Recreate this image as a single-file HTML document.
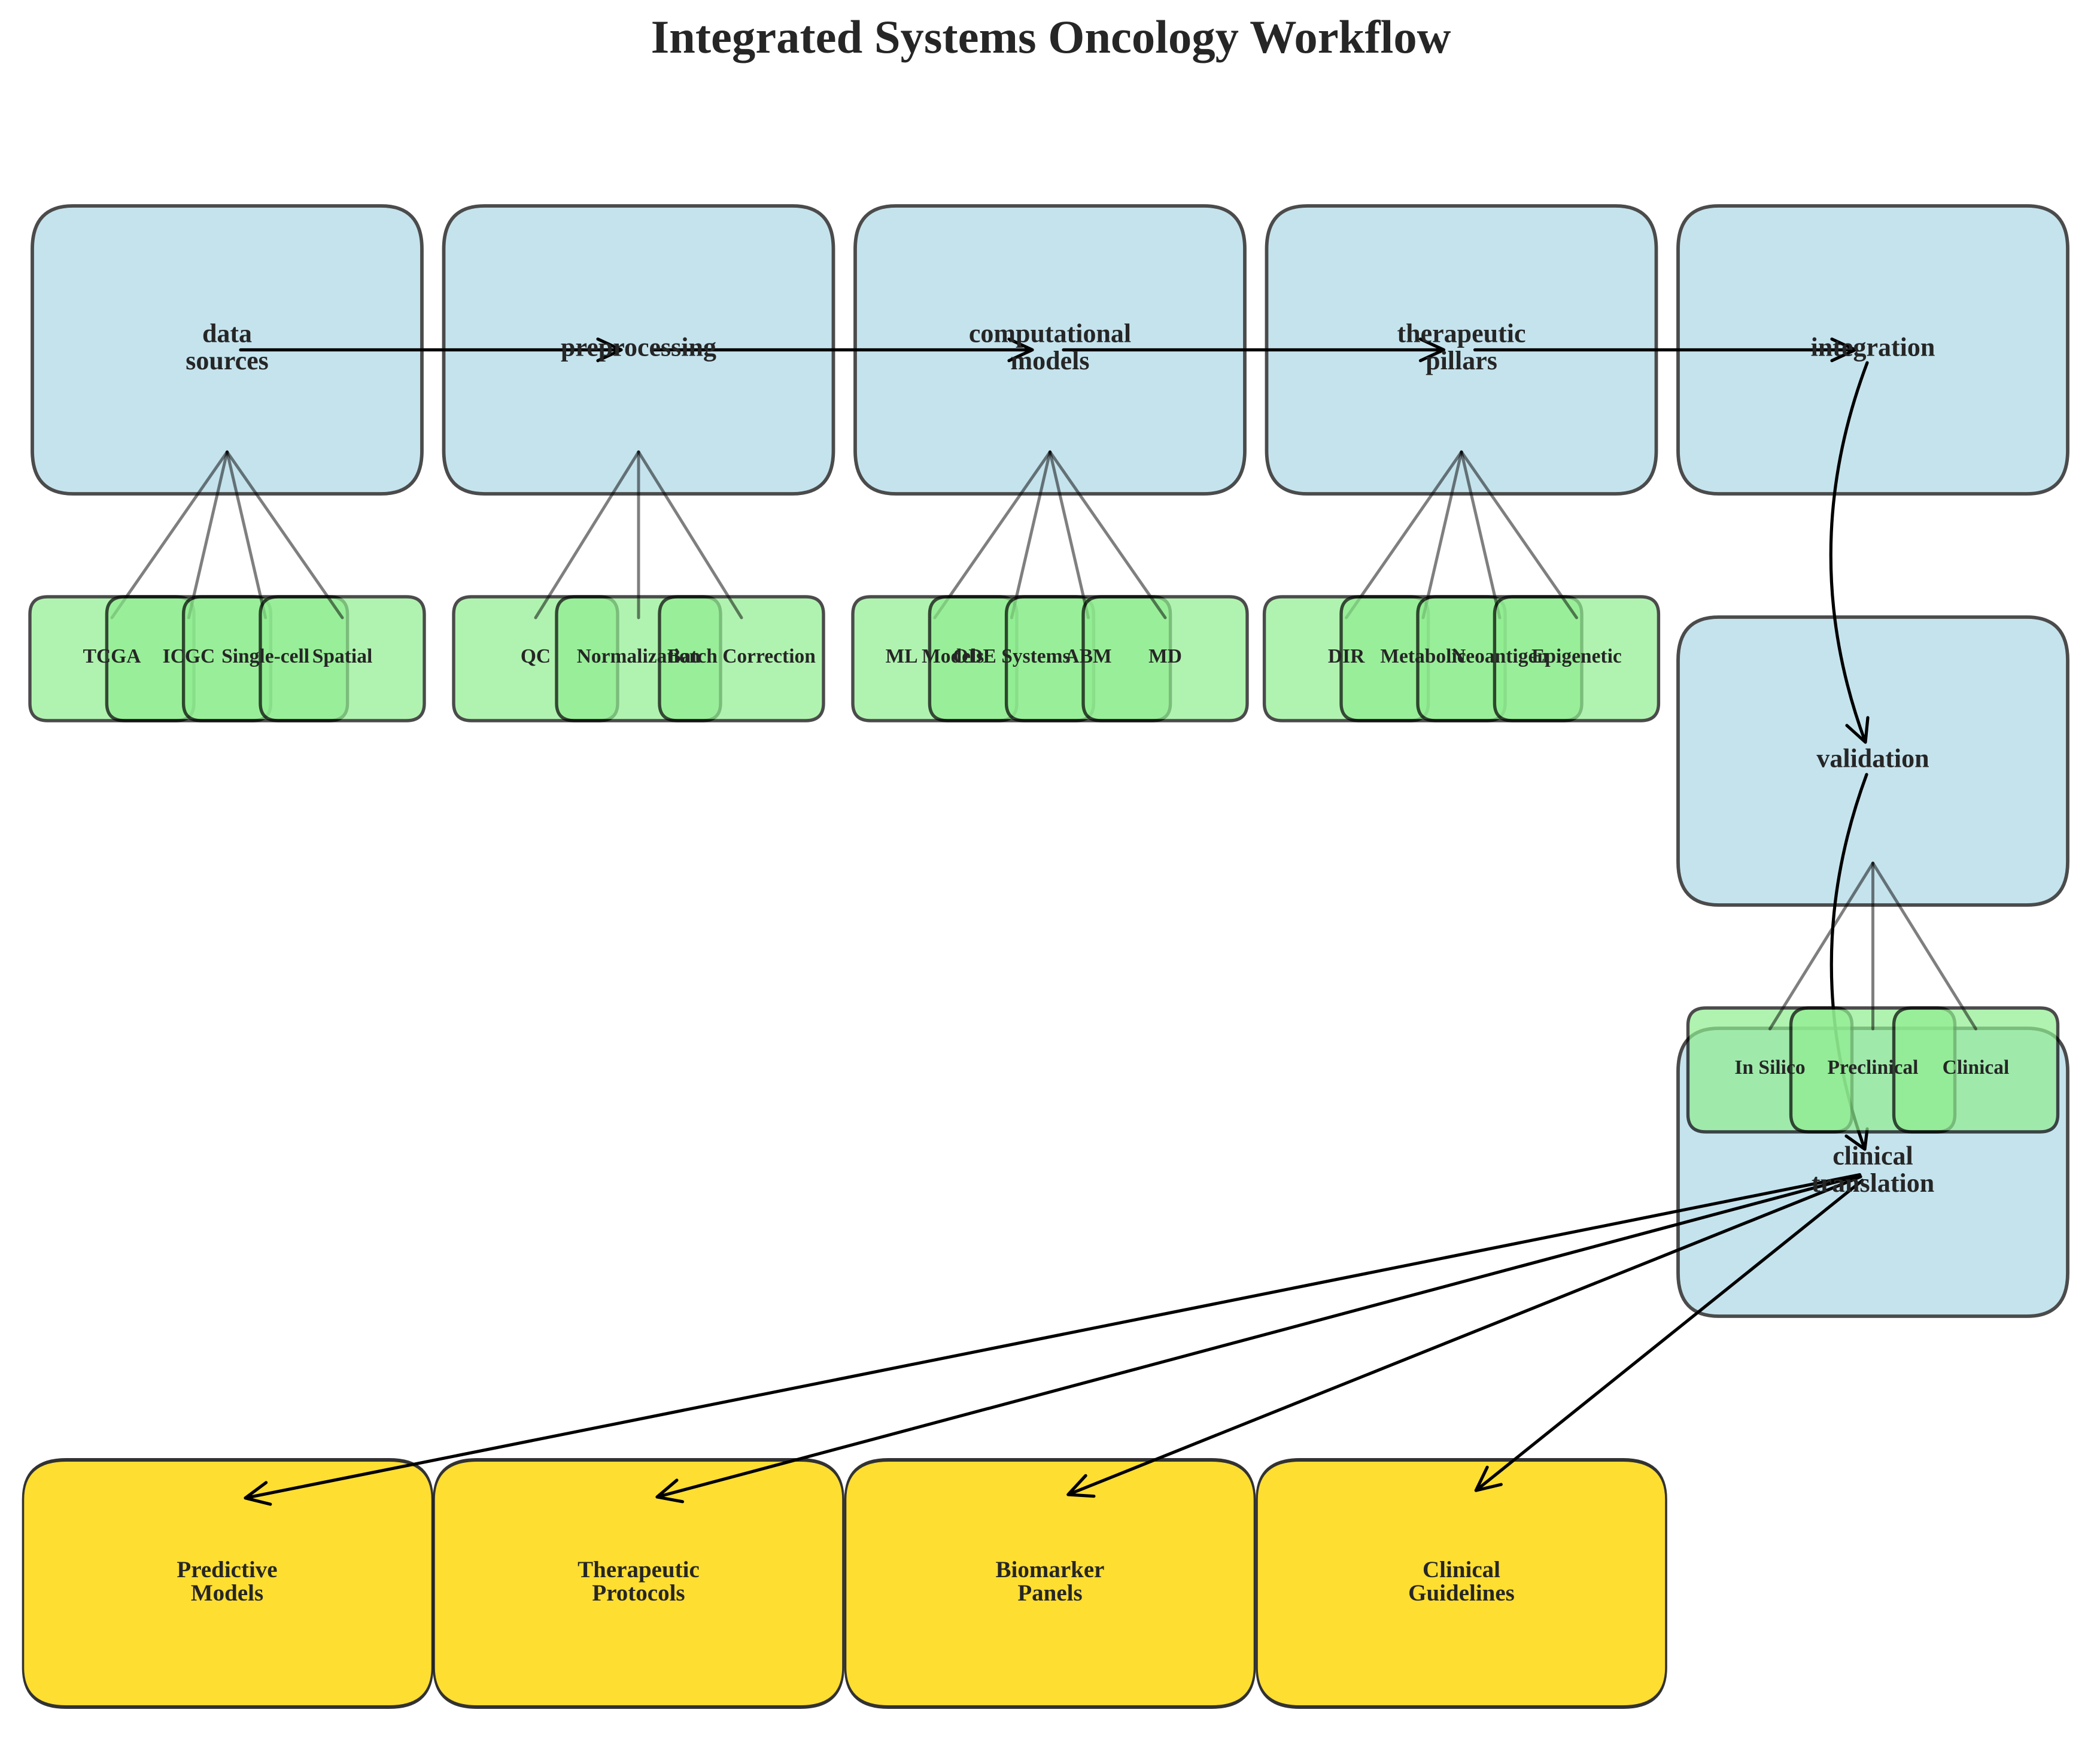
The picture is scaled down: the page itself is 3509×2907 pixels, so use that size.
<!DOCTYPE html>
<html lang="en">
<head>
<meta charset="utf-8">
<title>Integrated Systems Oncology Workflow</title>
<style>
html,body{margin:0;padding:0;background:#fff;width:3509px;height:2907px;overflow:hidden}
svg{display:block}
text{font-family:"Liberation Serif",serif;font-weight:bold;fill:#262626;text-anchor:middle}
.t{font-size:78.6px}
.n{font-size:44px}
.s{font-size:33.5px}
.y{font-size:39px}
.blue{fill:#add8e6;stroke:#000;stroke-width:5.8;opacity:.7}
.green{fill:#90ee90;stroke:#000;stroke-width:5.4;opacity:.7}
.gold{fill:#ffd700;stroke:#000;stroke-width:6;opacity:.8}
.l{stroke:#000;stroke-opacity:.5;stroke-width:5;stroke-linecap:round;fill:none}
.a{stroke:#000;stroke-width:5.2;fill:none;stroke-linecap:round;stroke-linejoin:round}
</style>
</head>
<body>
<svg xmlns="http://www.w3.org/2000/svg" width="3509" height="2907" viewBox="0 0 3509 2907">
<defs>
<path id="b" d="M-257.5,-240.5H257.5Q325.5,-240.5 325.5,-168.5V168.5Q325.5,240.5 257.5,240.5H-257.5Q-325.5,240.5 -325.5,168.5V-168.5Q-325.5,-240.5 -257.5,-240.5Z"/>
<path id="g" d="M-107,-103.5H107Q137,-103.5 137,-74.5V74.5Q137,103.5 107,103.5H-107Q-137,103.5 -137,74.5V-74.5Q-137,-103.5 -107,-103.5Z"/>
<path id="o" d="M-450,-206.5H450Q570,-206.5 570,-140.5V140.5Q570,206.5 450,206.5H-450Q-570,206.5 -570,140.5V-140.5Q-570,-206.5 -450,-206.5Z"/>
</defs>

<!-- main stage boxes -->
<use href="#b" class="blue" x="379.5" y="584.5"/>
<use href="#b" class="blue" x="1067" y="584.5"/>
<use href="#b" class="blue" x="1754.5" y="584.5"/>
<use href="#b" class="blue" x="2442" y="584.5"/>
<use href="#b" class="blue" x="3129.5" y="584.5"/>
<use href="#b" class="blue" x="3129.5" y="1271.5"/>
<use href="#b" class="blue" x="3129.5" y="1958.5"/>

<!-- outputs -->
<use href="#o" class="gold" transform="translate(380.5,2645.5) scale(.6,1)"/>
<use href="#o" class="gold" transform="translate(1067,2645.5) scale(.6,1)"/>
<use href="#o" class="gold" transform="translate(1754.5,2645.5) scale(.6,1)"/>
<use href="#o" class="gold" transform="translate(2442,2645.5) scale(.6,1)"/>

<!-- main arrows -->
<path class="a" d="M402,584.5H1038M999,566.5L1038,584.5L999,602.5"/>
<path class="a" d="M1089.5,584.5H1725M1686,566.5L1725,584.5L1686,602.5"/>
<path class="a" d="M1777,584.5H2412.5M2373.5,566.5L2412.5,584.5L2373.5,602.5"/>
<path class="a" d="M2464.5,584.5H3100M3061,566.5L3100,584.5L3061,602.5"/>
<path class="a" d="M3120,606Q3000,924 3117,1240M3121,1199L3117,1240L3086,1212"/>
<path class="a" d="M3119,1294Q3003,1608 3116,1920M3120,1886L3116,1920L3085,1898"/>
<path class="a" d="M3107.5,1962.5L410,2502.7M451.8,2513.1L410,2502.7L444.6,2476.9"/>
<path class="a" d="M3108,1964L1098,2501M1140.5,2508.8L1098,2501L1130.9,2473"/>
<path class="a" d="M3109,1966L1784.8,2497M1827.9,2499.7L1784.8,2497L1814.1,2465.3"/>
<path class="a" d="M3112,1972L2466.3,2490.1M2508.3,2480.1L2466.3,2490.1L2485.1,2451.3"/>

<!-- sub boxes and connectors -->
<use href="#g" class="green" x="187" y="1100.5"/><path class="l" d="M379.5,755L187,1032"/>
<use href="#g" class="green" x="315.4" y="1100.5"/><path class="l" d="M379.5,755L315.4,1032"/>
<use href="#g" class="green" x="443.6" y="1100.5"/><path class="l" d="M379.5,755L443.6,1032"/>
<use href="#g" class="green" x="572" y="1100.5"/><path class="l" d="M379.5,755L572,1032"/>

<use href="#g" class="green" x="895" y="1100.5"/><path class="l" d="M1067,755L895,1032"/>
<use href="#g" class="green" x="1067" y="1100.5"/><path class="l" d="M1067,755L1067,1032"/>
<use href="#g" class="green" x="1239" y="1100.5"/><path class="l" d="M1067,755L1239,1032"/>

<use href="#g" class="green" x="1562" y="1100.5"/><path class="l" d="M1754.5,755L1562,1032"/>
<use href="#g" class="green" x="1690.4" y="1100.5"/><path class="l" d="M1754.5,755L1690.4,1032"/>
<use href="#g" class="green" x="1818.6" y="1100.5"/><path class="l" d="M1754.5,755L1818.6,1032"/>
<use href="#g" class="green" x="1947" y="1100.5"/><path class="l" d="M1754.5,755L1947,1032"/>

<use href="#g" class="green" x="2249.6" y="1100.5"/><path class="l" d="M2442,755L2249.6,1032"/>
<use href="#g" class="green" x="2378" y="1100.5"/><path class="l" d="M2442,755L2378,1032"/>
<use href="#g" class="green" x="2506" y="1100.5"/><path class="l" d="M2442,755L2506,1032"/>
<use href="#g" class="green" x="2634.4" y="1100.5"/><path class="l" d="M2442,755L2634.4,1032"/>

<use href="#g" class="green" x="2957.5" y="1787.5"/><path class="l" d="M3129.5,1442L2957.5,1719"/>
<use href="#g" class="green" x="3129.5" y="1787.5"/><path class="l" d="M3129.5,1442L3129.5,1719"/>
<use href="#g" class="green" x="3301.5" y="1787.5"/><path class="l" d="M3129.5,1442L3301.5,1719"/>

<!-- labels -->
<text class="t" x="1756" y="88">Integrated Systems Oncology Workflow</text>

<text class="n" x="379.5" y="571.5">data</text>
<text class="n" x="379.5" y="617">sources</text>
<text class="n" x="1067" y="594.5">preprocessing</text>
<text class="n" x="1754.5" y="571.5">computational</text>
<text class="n" x="1754.5" y="617">models</text>
<text class="n" x="2442" y="571.5">therapeutic</text>
<text class="n" x="2442" y="617">pillars</text>
<text class="n" x="3129.5" y="594.5">integration</text>
<text class="n" x="3129.5" y="1281.5">validation</text>
<text class="n" x="3129.5" y="1945.5">clinical</text>
<text class="n" x="3129.5" y="1991">translation</text>

<text class="s" x="187" y="1107">TCGA</text>
<text class="s" x="315.4" y="1107">ICGC</text>
<text class="s" x="443.6" y="1107">Single-cell</text>
<text class="s" x="572" y="1107">Spatial</text>
<text class="s" x="895" y="1107">QC</text>
<text class="s" x="1067" y="1107">Normalization</text>
<text class="s" x="1239" y="1107">Batch Correction</text>
<text class="s" x="1562" y="1107">ML Models</text>
<text class="s" x="1690.4" y="1107">ODE Systems</text>
<text class="s" x="1818.6" y="1107">ABM</text>
<text class="s" x="1947" y="1107">MD</text>
<text class="s" x="2249.6" y="1107">DIR</text>
<text class="s" x="2378" y="1107">Metabolic</text>
<text class="s" x="2506" y="1107">Neoantigen</text>
<text class="s" x="2634.4" y="1107">Epigenetic</text>
<text class="s" x="2957.5" y="1794">In Silico</text>
<text class="s" x="3129.5" y="1794">Preclinical</text>
<text class="s" x="3301.5" y="1794">Clinical</text>

<text class="y" x="379.5" y="2635">Predictive</text>
<text class="y" x="379.5" y="2674">Models</text>
<text class="y" x="1067" y="2635">Therapeutic</text>
<text class="y" x="1067" y="2674">Protocols</text>
<text class="y" x="1754.5" y="2635">Biomarker</text>
<text class="y" x="1754.5" y="2674">Panels</text>
<text class="y" x="2442" y="2635">Clinical</text>
<text class="y" x="2442" y="2674">Guidelines</text>
</svg>
</body>
</html>
